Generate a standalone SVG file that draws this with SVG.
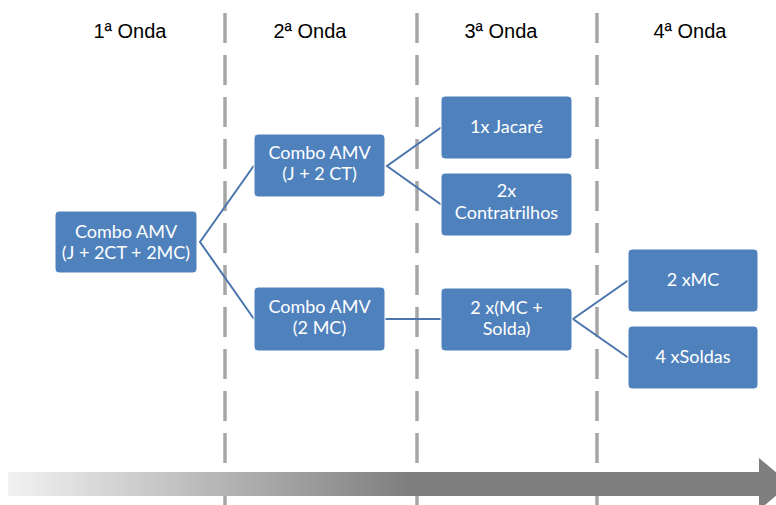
<svg xmlns="http://www.w3.org/2000/svg" width="776" height="505" viewBox="0 0 776 505">
<defs>
<linearGradient id="g" x1="8" y1="0" x2="776" y2="0" gradientUnits="userSpaceOnUse">
<stop offset="0" stop-color="#f2f2f2"/>
<stop offset="0.52" stop-color="#7f7f7f"/>
<stop offset="1" stop-color="#7f7f7f"/>
</linearGradient>
<style>
.div{stroke:#a6a6a6;stroke-width:3.5;stroke-dasharray:30 12;fill:none}
.ttl{font-family:"Liberation Sans",Arial,sans-serif;font-size:20px;fill:#000;text-anchor:middle}
.box{fill:#4f81bd;stroke:#fff;stroke-width:1}
.lbl{font-family:Lato,"Open Sans",sans-serif;font-size:18px;fill:#fff;text-anchor:middle}
.con{stroke:#4a76ad;stroke-width:2;fill:none}
</style>
</defs>
<rect width="776" height="505" fill="#fff"/>
<g id="dividers">
<line class="div" x1="225" y1="13" x2="225" y2="505"/>
<line class="div" x1="417" y1="13" x2="417" y2="505"/>
<line class="div" x1="597" y1="13" x2="597" y2="505"/>
</g>
<g id="titles">
<text class="ttl" x="130" y="38">1ª Onda</text>
<text class="ttl" x="310" y="38">2ª Onda</text>
<text class="ttl" x="501" y="38">3ª Onda</text>
<text class="ttl" x="690" y="38">4ª Onda</text>
</g>
<g id="timeline">
<path d="M8,472 H759 V458 L790,484 L759,510 V496 H8 Z" fill="url(#g)"/>
</g>
<g id="connectors">
<polyline class="con" points="254,165.5 200,242 254,319"/>
<polyline class="con" points="441,127.5 387,166 441,204.5"/>
<line class="con" x1="385" y1="319" x2="441" y2="319"/>
<polyline class="con" points="628,280.5 573,319 628,357.5"/>
</g>
<g id="n1">
<rect class="box" x="55" y="211" width="142" height="62" rx="4"/>
<text class="lbl" x="126" y="238">Combo AMV</text>
<text class="lbl" x="126" y="259">(J + 2CT + 2MC)</text>
</g>
<g id="n2">
<rect class="box" x="254" y="134" width="131" height="63" rx="4"/>
<text class="lbl" x="319.5" y="159">Combo AMV</text>
<text class="lbl" x="319.5" y="180">(J + 2 CT)</text>
</g>
<g id="n3">
<rect class="box" x="254" y="287" width="131" height="64" rx="4"/>
<text class="lbl" x="319.5" y="313">Combo AMV</text>
<text class="lbl" x="319.5" y="334">(2 MC)</text>
</g>
<g id="n4">
<rect class="box" x="441" y="96" width="131" height="63" rx="4"/>
<text class="lbl" x="506.5" y="133">1x Jacaré</text>
</g>
<g id="n5">
<rect class="box" x="441" y="173" width="131" height="63" rx="4"/>
<text class="lbl" x="506.5" y="197">2x</text>
<text class="lbl" x="506.5" y="219">Contratrilhos</text>
</g>
<g id="n6">
<rect class="box" x="441" y="288" width="131" height="63" rx="4"/>
<text class="lbl" x="506.5" y="314">2 x(MC +</text>
<text class="lbl" x="506.5" y="335">Solda)</text>
</g>
<g id="n7">
<rect class="box" x="628" y="249" width="130" height="63" rx="4"/>
<text class="lbl" x="693" y="286">2 xMC</text>
</g>
<g id="n8">
<rect class="box" x="628" y="326" width="130" height="63" rx="4"/>
<text class="lbl" x="693" y="363">4 xSoldas</text>
</g>
</svg>
